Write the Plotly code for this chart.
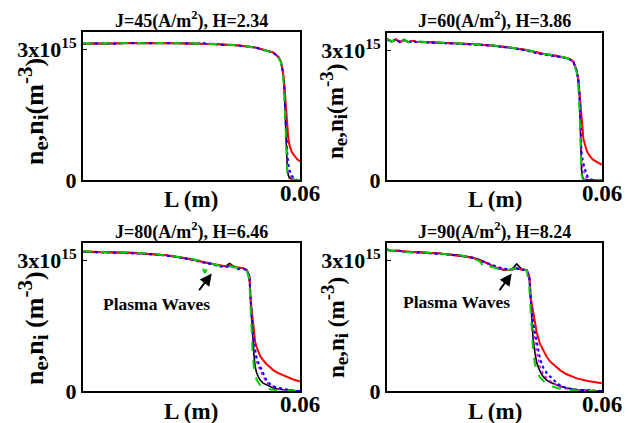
import plotly.graph_objects as go

SCALE = 1e15  # values below are in units of 1e15 m^-3

# ---------------- Panel 1: J=45, H=2.34 ----------------
L1 = [0, 0.003, 0.006, 0.009, 0.012, 0.015, 0.018, 0.021, 0.024, 0.027, 0.030, 0.033,
      0.036, 0.039, 0.042, 0.045, 0.048, 0.050, 0.0526, 0.054, 0.0547, 0.0552, 0.0556,
      0.0559, 0.0562, 0.0565, 0.0568, 0.0571, 0.0577, 0.0586, 0.0593, 0.06]
p1_black = [3.13, 3.14, 3.13, 3.14, 3.14, 3.15, 3.14, 3.14, 3.15, 3.14, 3.14, 3.13, 3.13,
            3.11, 3.10, 3.08, 3.04, 2.99, 2.93, 2.83, 2.72, 2.52, 2.22, 1.53, 0.76, 0.23,
            0.10, 0.05, 0.02, 0.0, 0.0, 0.0]
p1_red = [3.13, 3.13, 3.14, 3.14, 3.15, 3.14, 3.14, 3.15, 3.14, 3.14, 3.13, 3.13, 3.12,
          3.11, 3.10, 3.07, 3.04, 2.99, 2.93, 2.83, 2.72, 2.52, 2.27, 1.92, 1.60, 1.13,
          0.93, 0.80, 0.65, 0.54, 0.47, 0.43]
p1_magenta = [3.14, 3.13, 3.14, 3.15, 3.14, 3.14, 3.15, 3.14, 3.14, 3.15, 3.13, 3.13, 3.12,
              3.11, 3.09, 3.08, 3.03, 2.99, 2.92, 2.83, 2.72, 2.52, 2.22, 1.60, 0.88, 0.41,
              0.23, 0.12, 0.04, 0.0, 0.0, 0.0]
p1_blue = [3.13, 3.14, 3.14, 3.13, 3.15, 3.14, 3.14, 3.14, 3.15, 3.14, 3.13, 3.14, 3.12,
           3.10, 3.10, 3.07, 3.04, 2.98, 2.93, 2.82, 2.72, 2.52, 2.22, 1.65, 0.98, 0.57,
           0.36, 0.23, 0.10, 0.02, 0.0, 0.0]
p1_green = [3.14, 3.13, 3.14, 3.14, 3.14, 3.15, 3.13, 3.15, 3.14, 3.14, 3.14, 3.12, 3.13,
            3.11, 3.09, 3.08, 3.03, 2.99, 2.92, 2.82, 2.71, 2.49, 2.11, 1.34, 0.57, 0.12,
            0.03, 0.0, 0.0, 0.0, 0.0, 0.0]

# ---------------- Panel 2: J=60, H=3.86 ----------------
L2 = [0, 0.0006, 0.0012, 0.0018, 0.0024, 0.003, 0.0036, 0.0042, 0.0048, 0.0054, 0.006,
      0.0066, 0.0072, 0.0078, 0.0084, 0.009, 0.012, 0.016, 0.020, 0.025, 0.030, 0.034,
      0.039, 0.0436, 0.047, 0.0495, 0.051, 0.052, 0.0529, 0.0534, 0.0537, 0.0539, 0.0541,
      0.0543, 0.0546, 0.0548, 0.0552, 0.0557, 0.0561, 0.0567, 0.0575, 0.0585, 0.06]
p2_black = [3.26, 3.23, 3.20, 3.23, 3.26, 3.22, 3.19, 3.22, 3.25, 3.21, 3.19, 3.21, 3.22,
            3.20, 3.19, 3.20, 3.19, 3.17, 3.16, 3.14, 3.11, 3.07, 3.01, 2.92, 2.88, 2.84,
            2.80, 2.74, 2.54, 2.31, 2.00, 1.55, 0.77, 0.23, 0.07, 0.03, 0.01, 0.0, 0.0,
            0.0, 0.0, 0.0, 0.0]
p2_red = [3.25, 3.24, 3.21, 3.22, 3.25, 3.23, 3.20, 3.21, 3.24, 3.22, 3.19, 3.20, 3.22,
          3.21, 3.19, 3.19, 3.18, 3.17, 3.16, 3.14, 3.10, 3.07, 3.00, 2.92, 2.88, 2.84,
          2.80, 2.74, 2.54, 2.31, 2.06, 1.91, 1.73, 1.55, 1.18, 0.95, 0.80, 0.69, 0.62,
          0.54, 0.47, 0.42, 0.35]
p2_magenta = [3.24, 3.23, 3.21, 3.23, 3.25, 3.22, 3.20, 3.22, 3.24, 3.21, 3.20, 3.21, 3.21,
              3.20, 3.19, 3.19, 3.18, 3.17, 3.15, 3.14, 3.10, 3.06, 3.00, 2.91, 2.87, 2.83,
              2.79, 2.73, 2.54, 2.31, 2.00, 1.55, 0.88, 0.46, 0.31, 0.23, 0.12, 0.05, 0.01,
              0.0, 0.0, 0.0, 0.0]
p2_blue = [3.25, 3.22, 3.20, 3.22, 3.25, 3.22, 3.19, 3.21, 3.24, 3.21, 3.19, 3.20, 3.21,
           3.20, 3.18, 3.19, 3.18, 3.17, 3.16, 3.13, 3.10, 3.06, 2.99, 2.90, 2.86, 2.83,
           2.79, 2.73, 2.53, 2.31, 2.00, 1.55, 0.98, 0.62, 0.46, 0.38, 0.26, 0.15, 0.05,
           0.01, 0.0, 0.0, 0.0]
p2_green = [3.27, 3.24, 3.20, 3.22, 3.26, 3.23, 3.19, 3.21, 3.25, 3.22, 3.19, 3.20, 3.22,
            3.21, 3.19, 3.20, 3.19, 3.17, 3.16, 3.14, 3.11, 3.07, 3.01, 2.92, 2.88, 2.84,
            2.80, 2.73, 2.50, 2.16, 1.65, 1.13, 0.52, 0.12, 0.03, 0.0, 0.0, 0.0, 0.0,
            0.0, 0.0, 0.0, 0.0]

# ---------------- Panel 3: J=80, H=6.46 ----------------
L3 = [0, 0.004, 0.008, 0.0138, 0.018, 0.0231, 0.027, 0.030, 0.0323, 0.0337, 0.035, 0.0365,
      0.0388, 0.0396, 0.0401, 0.0406, 0.0411, 0.0416, 0.0425, 0.0443, 0.0453, 0.046, 0.0464,
      0.0469, 0.0473, 0.0476, 0.048, 0.0485, 0.049, 0.0498, 0.0507, 0.0517, 0.0526, 0.054,
      0.0563, 0.058, 0.06]
p3_black = [3.20, 3.19, 3.18, 3.18, 3.15, 3.12, 3.07, 3.03, 2.98, 2.96, 2.93, 2.90, 2.86,
            2.86, 2.91, 2.93, 2.90, 2.86, 2.84, 2.82, 2.78, 2.63, 1.94, 1.17, 0.80, 0.56,
            0.42, 0.32, 0.25, 0.18, 0.14, 0.10, 0.07, 0.04, 0.02, 0.01, 0.0]
p3_red = [3.21, 3.19, 3.18, 3.17, 3.15, 3.12, 3.07, 3.02, 2.98, 2.96, 2.93, 2.90, 2.86,
          2.86, 2.87, 2.88, 2.87, 2.87, 2.84, 2.82, 2.78, 2.65, 2.06, 1.60, 1.29, 1.13,
          1.01, 0.90, 0.80, 0.71, 0.62, 0.55, 0.48, 0.41, 0.33, 0.27, 0.22]
p3_magenta = [3.20, 3.18, 3.18, 3.17, 3.14, 3.11, 3.06, 3.02, 2.97, 2.95, 2.92, 2.89, 2.85,
              2.85, 2.86, 2.86, 2.85, 2.84, 2.79, 2.81, 2.77, 2.63, 1.96, 1.29, 0.98, 0.82,
              0.68, 0.57, 0.46, 0.33, 0.21, 0.13, 0.09, 0.05, 0.02, 0.01, 0.0]
p3_blue = [3.20, 3.19, 3.17, 3.17, 3.15, 3.11, 3.06, 3.02, 2.97, 2.95, 2.93, 2.89, 2.85,
           2.86, 2.86, 2.87, 2.86, 2.85, 2.81, 2.81, 2.77, 2.63, 2.00, 1.39, 1.08, 0.93,
           0.77, 0.65, 0.56, 0.39, 0.25, 0.16, 0.11, 0.07, 0.03, 0.01, 0.0]
p3_green = [3.21, 3.19, 3.18, 3.18, 3.15, 3.12, 3.07, 3.04, 2.99, 2.71, 2.94, 2.90, 2.86,
            2.86, 2.87, 2.87, 2.86, 2.85, 2.83, 2.81, 2.77, 2.55, 1.65, 0.88, 0.52, 0.36,
            0.26, 0.19, 0.13, 0.09, 0.06, 0.04, 0.03, 0.01, 0.0, 0.0, 0.0]

# ---------------- Panel 4: J=90, H=8.24 ----------------
L4 = [0, 0.0015, 0.003, 0.0045, 0.006, 0.0092, 0.015, 0.0204, 0.024, 0.026, 0.0273, 0.0285,
      0.0306, 0.0325, 0.0339, 0.0349, 0.0356, 0.0362, 0.0368, 0.0375, 0.039, 0.0397, 0.0402,
      0.0408, 0.0413, 0.0418, 0.0427, 0.0436, 0.0446, 0.0455, 0.0474, 0.0483, 0.050, 0.053,
      0.056, 0.06]
p4_black = [3.25, 3.21, 3.23, 3.20, 3.19, 3.19, 3.16, 3.12, 3.06, 3.01, 2.96, 2.92, 2.82,
            2.78, 2.78, 2.80, 2.87, 2.92, 2.87, 2.80, 2.78, 2.63, 1.94, 1.17, 0.87, 0.64,
            0.45, 0.33, 0.25, 0.20, 0.14, 0.11, 0.07, 0.03, 0.01, 0.0]
p4_red = [3.24, 3.22, 3.22, 3.21, 3.19, 3.18, 3.16, 3.11, 3.06, 3.01, 2.96, 2.91, 2.83,
          2.79, 2.78, 2.79, 2.81, 2.82, 2.81, 2.79, 2.78, 2.65, 2.10, 1.80, 1.55, 1.34,
          1.08, 0.93, 0.78, 0.68, 0.54, 0.48, 0.39, 0.29, 0.23, 0.18]
p4_magenta = [3.24, 3.21, 3.22, 3.20, 3.19, 3.18, 3.15, 3.11, 3.05, 3.00, 2.95, 2.91, 2.83,
              2.80, 2.77, 2.80, 2.83, 2.84, 2.81, 2.78, 2.77, 2.63, 1.96, 1.39, 1.08, 0.88,
              0.57, 0.39, 0.29, 0.23, 0.13, 0.10, 0.05, 0.02, 0.0, 0.0]
p4_blue = [3.25, 3.21, 3.23, 3.20, 3.19, 3.18, 3.15, 3.11, 3.06, 3.00, 2.96, 2.91, 2.86,
           2.81, 2.79, 2.79, 2.80, 2.81, 2.80, 2.79, 2.77, 2.63, 2.00, 1.55, 1.29, 1.13,
           0.74, 0.54, 0.41, 0.33, 0.18, 0.13, 0.07, 0.03, 0.01, 0.0]
p4_green = [3.26, 3.22, 3.23, 3.21, 3.19, 3.19, 3.16, 3.12, 3.06, 2.97, 2.82, 2.86, 2.82,
            2.79, 2.78, 2.80, 2.82, 2.83, 2.81, 2.80, 2.77, 2.40, 1.55, 0.88, 0.62, 0.46,
            0.31, 0.23, 0.16, 0.12, 0.07, 0.05, 0.03, 0.01, 0.0, 0.0]

titles = ["J=45(A/m<sup>2</sup>), H=2.34", "J=60(A/m<sup>2</sup>), H=3.86",
          "J=80(A/m<sup>2</sup>), H=6.46", "J=90(A/m<sup>2</sup>), H=8.24"]
xtitle = "L (m)"
ytick_vals = [0, 3e15]
ytick_text = ["0", "3x10<sup>15</sup>"]
xtick_vals = [0.06]
xtick_text = ["0.06"]
wave_label = "Plasma Waves"


def ytitle(gap, small):
    s = 'style="font-size:%dpx"' % small
    return ("n<sub><span %s>e</span></sub>,n<sub><span %s>i</span></sub>%s(m<sup><span %s>-3</span></sup>)"
            % (s, s, gap, s))


panels = [
    (L1, p1_black, p1_red, p1_magenta, p1_blue, p1_green),
    (L2, p2_black, p2_red, p2_magenta, p2_blue, p2_green),
    (L3, p3_black, p3_red, p3_magenta, p3_blue, p3_green),
    (L4, p4_black, p4_red, p4_magenta, p4_blue, p4_green),
]

W, H = 629, 423
# plot boxes in pixels: (left, right, top, bottom)
boxes = [(83, 300, 32, 180), (387, 602, 33, 180), (83, 300, 243, 391), (387, 602, 243, 391)]

FONT = "Liberation Serif, Times New Roman, serif"
styles = [
    dict(color="black", width=1.6, dash="solid"),
    dict(color="#ff0000", width=2, dash="solid"),
    dict(color="#ff00ff", width=1.6, dash="dot"),
    dict(color="#0000ff", width=2, dash="dot"),
    dict(color="#00cc00", width=2, dash="dash"),
]

fig = go.Figure()
layout = dict(width=W, height=H, autosize=False, margin=dict(l=0, r=0, t=0, b=0, pad=0),
              paper_bgcolor="white", plot_bgcolor="white", showlegend=False,
              template="none",
              font=dict(family=FONT, color="black", weight="bold"))
annotations = []

for i, (L, *series) in enumerate(panels):
    k = "" if i == 0 else str(i + 1)
    l, r, t, b = boxes[i]
    for s, st in zip(series, styles):
        fig.add_trace(go.Scatter(x=L, y=[v * SCALE for v in s], mode="lines",
                                 line=st, xaxis="x" + k, yaxis="y" + k,
                                 hoverinfo="skip"))
    layout["xaxis" + k] = dict(domain=[l / W, r / W], range=[0, 0.06], anchor="y" + k,
                               automargin=False, ticklabelstandoff=-9,
                               showgrid=False, zeroline=False, showline=True, mirror=True,
                               linecolor="black", linewidth=2, ticks="",
                               tickvals=xtick_vals, ticktext=xtick_text,
                               tickfont=dict(family=FONT, size=23, weight="bold"))
    layout["yaxis" + k] = dict(domain=[1 - b / H, 1 - t / H], range=[0, 3.4e15], anchor="x" + k,
                               automargin=False,
                               showgrid=False, zeroline=False, showline=True, mirror=True,
                               linecolor="black", linewidth=2, ticks="inside", ticklen=4,
                               tickcolor="black", tickvals=ytick_vals, ticktext=ytick_text,
                               tickfont=dict(family=FONT, size=22, weight="bold"))
    cx = (l + r) / 2 / W
    ty = 20 if i < 2 else 231
    annotations.append(dict(text=titles[i], x=cx, y=1 - ty / H, xref="paper", yref="paper",
                            showarrow=False, xanchor="center", yanchor="middle",
                            font=dict(family=FONT, size=18, weight="bold")))
    xy = 199 if i < 2 else 411
    annotations.append(dict(text=xtitle, x=cx, y=1 - xy / H, xref="paper", yref="paper",
                            showarrow=False, xanchor="center", yanchor="middle",
                            font=dict(family=FONT, size=23, weight="bold")))
    yx = 33 if i % 2 == 0 else 334
    yy = 112 if i < 2 else 328
    big = 26 if i % 2 == 0 else 23
    small = 21 if i % 2 == 0 else 19
    annotations.append(dict(text=ytitle("" if i < 2 else " ", small), x=yx / W, y=1 - yy / H,
                            xref="paper", yref="paper", showarrow=False, textangle=-90,
                            xanchor="center", yanchor="middle",
                            font=dict(family=FONT, size=big, weight="bold")))

# plasma wave annotations (data coordinates)
wave_text_pos = {3: (0.0204, 2.01e15), 4: (0.0195, 2.05e15)}
wave_arrow = {3: ((0.0356, 2.70e15), (0.0318, 2.28e15)), 4: ((0.0348, 2.70e15), (0.0311, 2.28e15))}
for p in (3, 4):
    k = str(p)
    tx, ty = wave_text_pos[p]
    annotations.append(dict(text=wave_label, x=tx, y=ty, xref="x" + k, yref="y" + k,
                            showarrow=False, xanchor="center", yanchor="middle",
                            font=dict(family=FONT, size=17.5, weight="bold")))
    (hx, hy), (sx, sy) = wave_arrow[p]
    annotations.append(dict(text="", x=hx, y=hy, ax=sx, ay=sy, xref="x" + k, yref="y" + k,
                            axref="x" + k, ayref="y" + k, showarrow=True, arrowhead=2,
                            arrowsize=1.2, arrowwidth=2, arrowcolor="black"))

layout["annotations"] = annotations
fig.update_layout(**layout)
fig.write_html("out.html")
